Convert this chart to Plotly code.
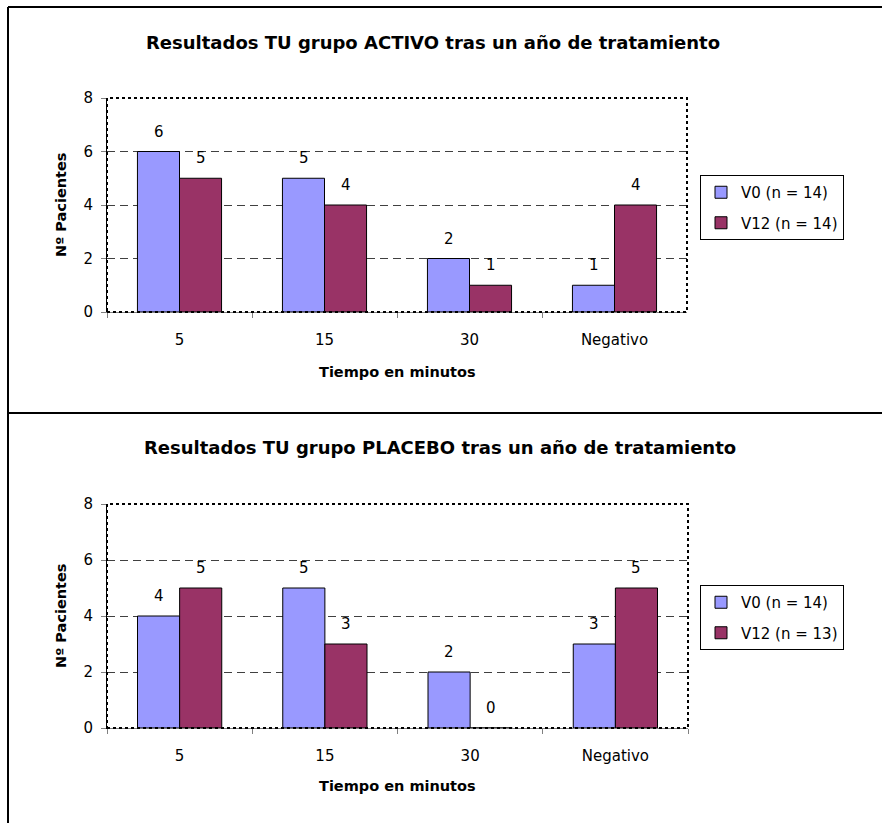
import plotly.graph_objects as go

# Categories (time in minutes) and patient counts per visit
categories = ["5", "15", "30", "Negativo"]

activo_v0 = [6, 5, 2, 1]
activo_v12 = [5, 4, 1, 4]
placebo_v0 = [4, 5, 2, 3]
placebo_v12 = [5, 3, 0, 5]

activo_names = ["V0 (n = 14)", "V12 (n = 14)"]
placebo_names = ["V0 (n = 14)", "V12 (n = 13)"]

title_activo = "Resultados TU grupo ACTIVO tras un año de tratamiento"
title_placebo = "Resultados TU grupo PLACEBO tras un año de tratamiento"
x_title = "Tiempo en minutos"
y_title = "Nº Pacientes"
y_ticks = [0, 2, 4, 6, 8]

COLOR_V0 = "#9999FF"
COLOR_V12 = "#993366"
FONT = "DejaVu Sans"

W, H = 882, 823


def px_x(p):
    return p / W


def px_y(p):
    return 1 - p / H


fig = go.Figure()

panels = [
    ("x", "y", "legend", activo_v0, activo_v12, activo_names, "a"),
    ("x2", "y2", "legend2", placebo_v0, placebo_v12, placebo_names, "b"),
]

for xa, ya, leg, v0, v12, names, grp in panels:
    for vals, name, color, g in [(v0, names[0], COLOR_V0, grp + "0"),
                                  (v12, names[1], COLOR_V12, grp + "1")]:
        fig.add_trace(go.Bar(
            x=categories, y=vals, name=name, xaxis=xa, yaxis=ya,
            marker=dict(color=color, line=dict(color="black", width=1)),
            legend=leg, legendgroup=g, hoverinfo="x+y+name",
        ))

annotations = []
# value labels above each bar (x given as category index)
for xa, ya, leg, v0, v12, names, grp in panels:
    for vals, shift in [(v0, -21), (v12, 21)]:
        for i, v in enumerate(vals):
            annotations.append(dict(
                x=i, y=v, xref=xa, yref=ya, text=str(v), showarrow=False,
                xshift=shift, yshift=20, yanchor="middle",
                font=dict(family=FONT, size=15, color="black"),
            ))

# chart titles and axis titles
for text, cx, cy in [(title_activo, 433, 42), (title_placebo, 440, 447)]:
    annotations.append(dict(
        x=px_x(cx), y=px_y(cy), xref="paper", yref="paper", text=text,
        showarrow=False, xanchor="center", yanchor="middle",
        font=dict(family=FONT, size=18, color="black", weight="bold"),
    ))
for cy in [372, 786]:
    annotations.append(dict(
        x=px_x(397), y=px_y(cy), xref="paper", yref="paper", text=x_title,
        showarrow=False, xanchor="center", yanchor="middle",
        font=dict(family=FONT, size=14.5, color="black", weight="bold"),
    ))
for cy in [205, 616]:
    annotations.append(dict(
        x=px_x(61), y=px_y(cy), xref="paper", yref="paper", text=y_title,
        showarrow=False, xanchor="center", yanchor="middle", textangle=-90,
        font=dict(family=FONT, size=14.5, color="black", weight="bold"),
    ))

shapes = []
# dotted plot-area frames
for xa, ya in [("x", "y"), ("x2", "y2")]:
    shapes.append(dict(
        type="rect", xref=xa + " domain", yref=ya + " domain",
        x0=0, x1=1, y0=0, y1=1, layer="above",
        line=dict(color="black", width=2, dash="3px,3px"),
    ))
# outer chart frame lines
shapes += [
    dict(type="line", xref="paper", yref="paper", x0=px_x(8), x1=1,
         y0=px_y(7), y1=px_y(7), line=dict(color="black", width=2)),
    dict(type="line", xref="paper", yref="paper", x0=px_x(8), x1=1,
         y0=px_y(413), y1=px_y(413), line=dict(color="black", width=2)),
    dict(type="line", xref="paper", yref="paper", x0=px_x(8), x1=px_x(8),
         y0=0, y1=px_y(7), line=dict(color="black", width=2)),
]

xaxis_style = dict(
    type="category", categoryorder="array", categoryarray=categories,
    range=[-0.5, len(categories) - 0.5], tickangle=0, automargin=False,
    tickson="boundaries", ticks="outside", ticklen=5, tickcolor="#808080",
    showline=True, linecolor="#808080", linewidth=1, showgrid=False,
    tickfont=dict(family=FONT, size=15, color="black"),
    ticklabelstandoff=14,
)
yaxis_style = dict(
    range=[0, 8], tickvals=y_ticks, ticks="outside", ticklen=5,
    automargin=False,
    tickcolor="#808080", showline=True, linecolor="black", linewidth=1,
    showgrid=True, gridcolor="#404040", griddash="8px,5px", gridwidth=1,
    zeroline=False, tickfont=dict(family=FONT, size=15, color="black"),
    ticklabelstandoff=5,
)

legend_style = dict(
    xanchor="left", yanchor="top", bordercolor="black", borderwidth=1,
    bgcolor="white", font=dict(family=FONT, size=15, color="black"),
    traceorder="grouped", tracegroupgap=8, itemwidth=30,
)

fig.update_layout(
    width=W, height=H, autosize=False,
    margin=dict(l=0, r=0, t=0, b=0, pad=0),
    paper_bgcolor="white", plot_bgcolor="white",
    barmode="group", bargap=0.42, bargroupgap=0,
    showlegend=True,
    xaxis=dict(domain=[px_x(107), px_x(687)], anchor="y", **xaxis_style),
    yaxis=dict(domain=[px_y(312), px_y(98)], anchor="x", **yaxis_style),
    xaxis2=dict(domain=[px_x(107), px_x(688)], anchor="y2", **xaxis_style),
    yaxis2=dict(domain=[px_y(728), px_y(504)], anchor="x2", **yaxis_style),
    legend=dict(x=px_x(700), y=px_y(175), **legend_style),
    legend2=dict(x=px_x(700), y=px_y(585), **legend_style),
    annotations=annotations,
    shapes=shapes,
    font=dict(family=FONT, color="black"),
)

fig.write_html("out.html")
